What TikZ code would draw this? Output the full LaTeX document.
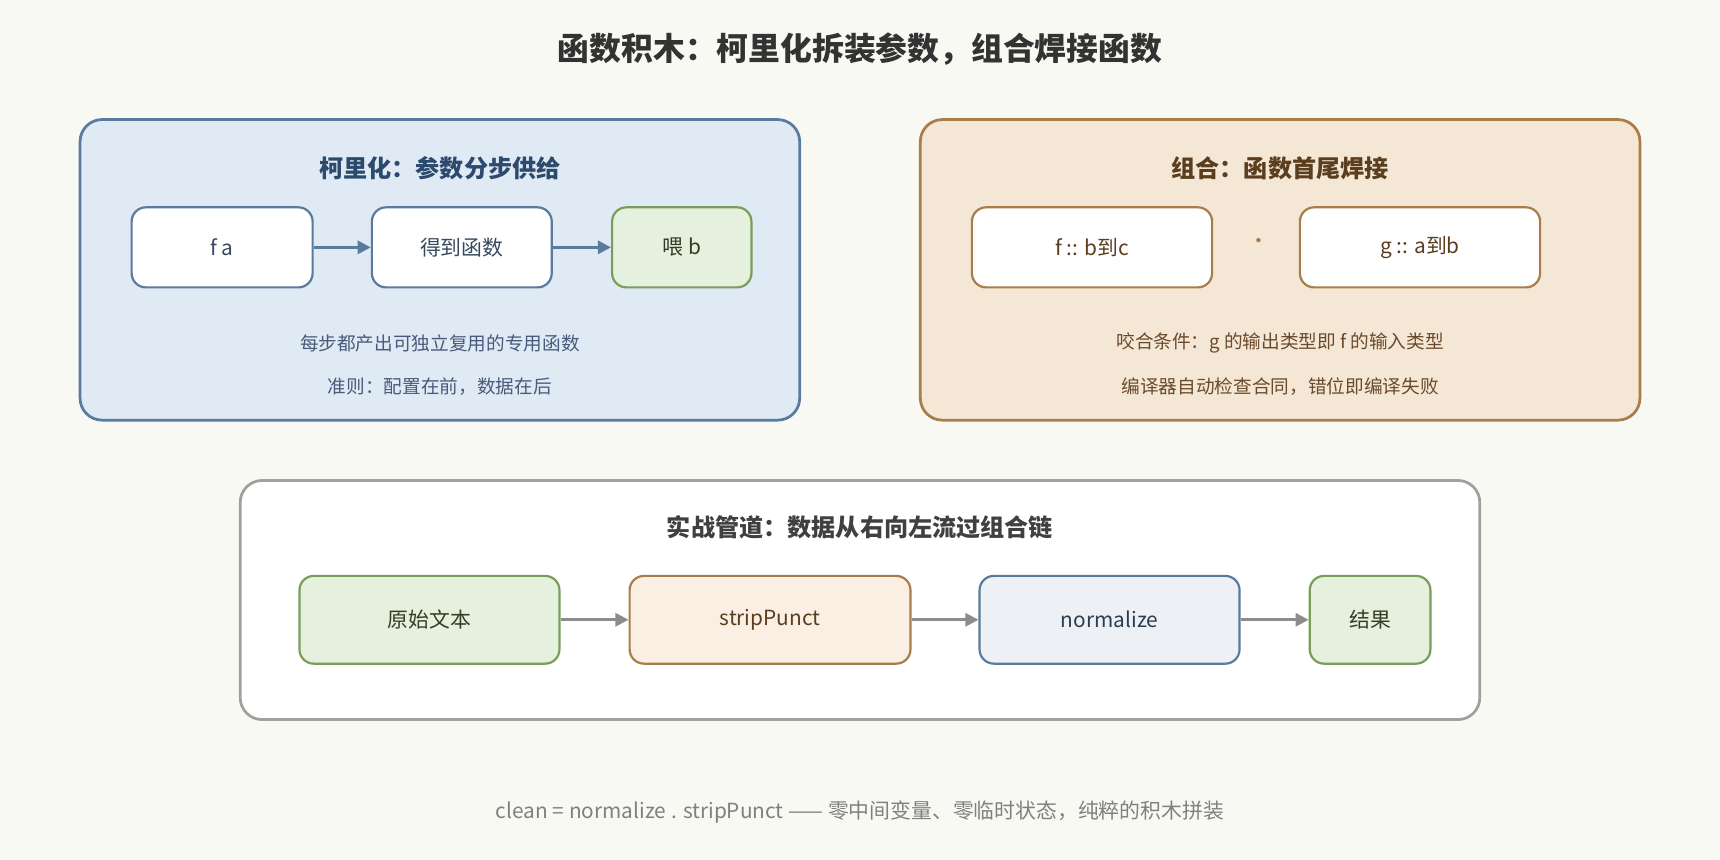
\documentclass[tikz,border=0pt]{standalone}
\usepackage{fontspec}
\setmainfont{Noto Sans CJK SC}
\usetikzlibrary{arrows.meta}
\definecolor{bg}{HTML}{F9F9F4}
\definecolor{bluef}{HTML}{DFEAF4}\definecolor{blued}{HTML}{5A7A9E}
\definecolor{brownf}{HTML}{F5E7D6}\definecolor{brownd}{HTML}{A87D4A}
\definecolor{greenf}{HTML}{E6F0DE}\definecolor{greend}{HTML}{7A9E5A}
\definecolor{orangef}{HTML}{FAEFE2}\definecolor{grayf}{HTML}{EDF1F6}
\begin{document}
\begin{tikzpicture}[x=1pt,y=-1pt,
  panel/.style={draw,line width=2.5pt,rounded corners=20pt},
  box/.style={draw,line width=2pt,rounded corners=13pt,font=\fontsize{19}{22}\selectfont,anchor=center},
  ptitle/.style={font=\fontsize{22}{26}\selectfont\bfseries},
  note/.style={font=\fontsize{17}{20}\selectfont},
  arr/.style={line width=2.5pt,-{Triangle[length=12pt,width=12pt]}}]
\fill[bg] (0,0) rectangle (1568,784);
\useasboundingbox (0,0) rectangle (1568,784);
\node[font=\fontsize{29}{34}\selectfont\bfseries,text=black!80] (title) at (784,45) {函数积木：柯里化拆装参数，组合焊接函数};
% left
\draw[panel,fill=bluef,draw=blued] (73,109) rectangle (729,383);
\node[ptitle,text={rgb,255:red,44;green,74;blue,110}] (lt) at (401,153) {柯里化：参数分步供给};
\node[box,draw=blued,fill=white,minimum width=165pt,minimum height=73pt,text=blued!60!black] (fa) at (202.5,225.5) {f a};
\node[box,draw=blued,fill=white,minimum width=164pt,minimum height=73pt,text=blued!60!black] (fn) at (421,225.5) {得到函数};
\node[box,draw=greend,fill=greenf,minimum width=127pt,minimum height=73pt,text=greend!40!black] (fb) at (621.5,225.5) {喂 b};
\draw[arr,blued] (fa) -- (fn);
\draw[arr,blued] (fn) -- (fb);
\node[note,text={rgb,255:red,74;green,90;blue,122}] (l1) at (401,313) {每步都产出可独立复用的专用函数};
\node[note,text={rgb,255:red,74;green,90;blue,122}] (l2) at (401,352) {准则：配置在前，数据在后};
% right
\draw[panel,fill=brownf,draw=brownd] (839,109) rectangle (1495,383);
\node[ptitle,text={rgb,255:red,90;green,62;blue,30}] (rt) at (1167,153) {组合：函数首尾焊接};
\node[box,draw=brownd,fill=white,minimum width=219pt,minimum height=73pt,text={rgb,255:red,90;green,62;blue,30}] (f) at (995.5,225.5) {f :: b到c};
\node[box,draw=brownd,fill=white,minimum width=219pt,minimum height=73pt,text={rgb,255:red,90;green,62;blue,30}] (g) at (1294.5,225.5) {g :: a到b};
\node[font=\fontsize{19}{22}\selectfont,text=brownd] (dot) at (1148,222) {·};
\node[note,text={rgb,255:red,106;green,74;blue,42}] (r1) at (1167,313) {咬合条件：g 的输出类型即 f 的输入类型};
\node[note,text={rgb,255:red,106;green,74;blue,42}] (r2) at (1167,352) {编译器自动检查合同，错位即编译失败};
% bottom
\draw[panel,fill=white,draw={rgb,255:red,160;green,160;blue,160}] (219,438) rectangle (1349,656);
\node[ptitle,text=black!75] (bt) at (784,481) {实战管道：数据从右向左流过组合链};
\node[box,draw=greend,fill=greenf,minimum width=237pt,minimum height=80pt,text=greend!40!black] (raw) at (391.5,565) {原始文本};
\node[box,draw=brownd,fill=orangef,minimum width=256pt,minimum height=80pt,text={rgb,255:red,90;green,62;blue,30}] (sp) at (702,565) {stripPunct};
\node[box,draw=blued,fill=grayf,minimum width=237pt,minimum height=80pt,text=blued!50!black] (nm) at (1011.5,565) {normalize};
\node[box,draw=greend,fill=greenf,minimum width=110pt,minimum height=80pt,text=greend!40!black] (res) at (1249,565) {结果};
\draw[arr,black!45] (raw) -- (sp);
\draw[arr,black!45] (sp) -- (nm);
\draw[arr,black!45] (nm) -- (res);
\node[font=\fontsize{19}{22}\selectfont,text=black!50] (foot) at (784,740) {clean = normalize . stripPunct —— 零中间变量、零临时状态，纯粹的积木拼装};
\end{tikzpicture}
\end{document}
